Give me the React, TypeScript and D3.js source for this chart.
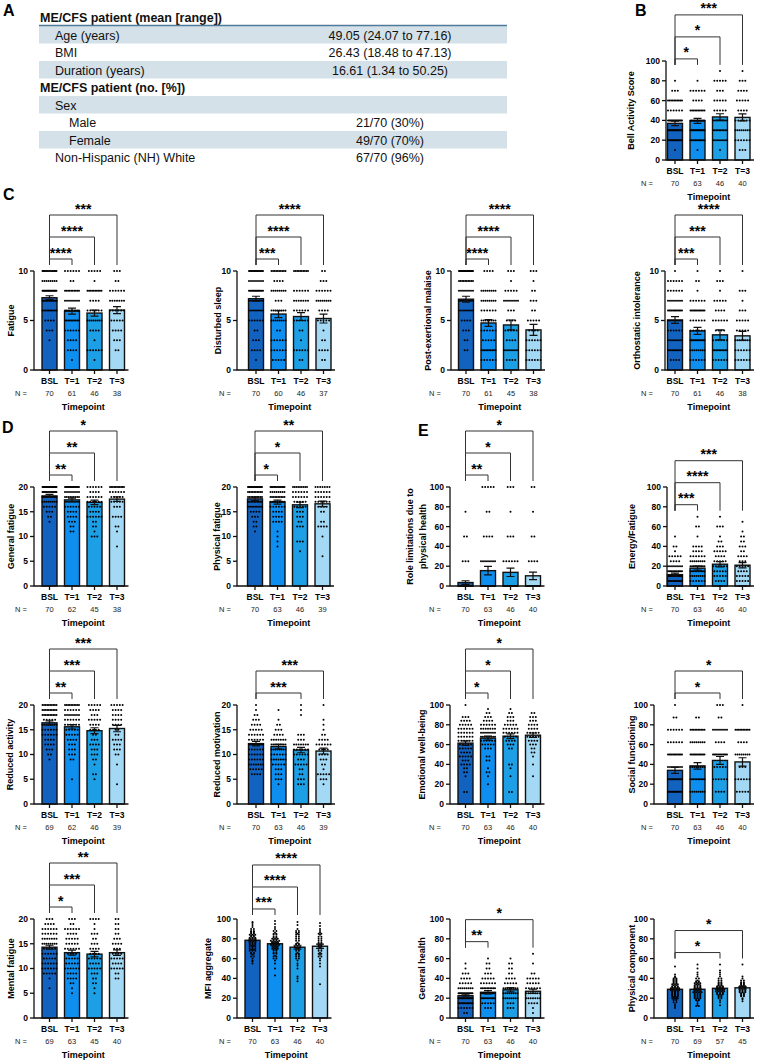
import React from 'react';
import * as d3 from 'd3';

const FONT = '"Liberation Sans", Arial, Helvetica, sans-serif';

const timepoints = ['BSL', 'T=1', 'T=2', 'T=3'];
const barColors = ['#1262c0', '#0e8ff0', '#1d9fe6', '#a3d9f4'];

// ---- Panel A table ----
const tableLabels = [
  'ME/CFS patient (mean [range])',
  'Age (years)',
  'BMI',
  'Duration (years)',
  'ME/CFS patient (no. [%])',
  'Sex',
  'Male',
  'Female',
  'Non-Hispanic (NH) White',
];
const tableValues = [
  '',
  '49.05 (24.07 to 77.16)',
  '26.43 (18.48 to 47.13)',
  '16.61 (1.34 to 50.25)',
  '',
  '',
  '21/70 (30%)',
  '49/70 (70%)',
  '67/70 (96%)',
];
const tableLevels = [0, 1, 1, 1, 0, 1, 2, 2, 1];

type Dots = [number, number][][];
type Sig = [number, string][];

// ---- B: Bell Activity Score ----
const bellMeans = [37, 39.5, 43.5, 43];
const bellSem = [2.3, 2.5, 3.2, 3.5];
const bellN = [70, 63, 46, 40];
const bellDots: Dots = [
  [[10, 1], [20, 14], [30, 20], [40, 15], [50, 6], [60, 10], [70, 3], [80, 1]],
  [[10, 1], [20, 12], [30, 17], [40, 12], [50, 10], [60, 4], [70, 6], [80, 1]],
  [[10, 1], [20, 8], [30, 10], [40, 8], [50, 5], [60, 5], [70, 3], [80, 5], [90, 1]],
  [[10, 3], [20, 6], [30, 8], [40, 6], [50, 4], [60, 5], [70, 4], [80, 3], [90, 1]],
];
const bellSig: Sig = [[1, '*'], [2, '*'], [3, '***']];

// ---- C: symptom scores ----
const fatigueMeans = [7.3, 5.95, 5.75, 6.05];
const fatigueSem = [0.2, 0.3, 0.3, 0.35];
const fatigueN = [70, 61, 46, 38];
const fatigueDots: Dots = [
  [[3, 1], [4, 3], [5, 4], [6, 10], [7, 12], [8, 18], [9, 8], [10, 14]],
  [[1, 1], [2, 4], [3, 4], [4, 6], [5, 10], [6, 10], [7, 8], [8, 10], [9, 2], [10, 6]],
  [[1, 1], [2, 6], [3, 1], [4, 4], [5, 8], [6, 6], [7, 4], [8, 10], [9, 1], [10, 5]],
  [[2, 2], [3, 3], [4, 4], [5, 5], [6, 6], [7, 7], [8, 6], [9, 2], [10, 3]],
];
const fatigueSig: Sig = [[1, '****'], [2, '****'], [3, '***']];

const sleepMeans = [7.2, 5.65, 5.4, 5.2];
const sleepSem = [0.25, 0.35, 0.4, 0.45];
const sleepN = [70, 60, 46, 37];
const sleepDots: Dots = [
  [[1, 1], [2, 4], [3, 3], [4, 2], [5, 6], [6, 8], [7, 8], [8, 14], [9, 8], [10, 16]],
  [[1, 5], [2, 6], [3, 6], [4, 2], [5, 8], [6, 8], [7, 3], [8, 8], [9, 4], [10, 10]],
  [[1, 2], [2, 6], [3, 1], [4, 2], [5, 6], [6, 6], [7, 7], [8, 6], [10, 10]],
  [[1, 2], [2, 4], [3, 2], [4, 1], [5, 5], [6, 4], [7, 8], [8, 6], [9, 3], [10, 2]],
];
const sleepSig: Sig = [[1, '***'], [2, '****'], [3, '****']];

const pemMeans = [7.15, 4.75, 4.55, 4.05];
const pemSem = [0.3, 0.35, 0.5, 0.55];
const pemN = [70, 61, 45, 38];
const pemDots: Dots = [
  [[2, 2], [3, 2], [4, 3], [5, 4], [6, 8], [7, 10], [8, 8], [9, 10], [10, 23]],
  [[1, 6], [2, 10], [3, 5], [4, 6], [5, 8], [6, 6], [7, 8], [8, 8], [10, 4]],
  [[1, 4], [2, 8], [3, 4], [4, 5], [5, 4], [6, 3], [7, 8], [8, 5], [9, 1], [10, 3]],
  [[1, 6], [2, 6], [3, 6], [4, 4], [5, 5], [6, 2], [7, 3], [8, 2], [9, 1], [10, 3]],
];
const pemSig: Sig = [[1, '****'], [2, '****'], [3, '****']];

const orthoMeans = [5.05, 3.95, 3.55, 3.45];
const orthoSem = [0.35, 0.35, 0.5, 0.45];
const orthoN = [70, 61, 46, 38];
const orthoDots: Dots = [
  [[1, 4], [2, 11], [3, 8], [4, 6], [5, 8], [6, 12], [7, 8], [8, 6], [9, 6], [10, 1]],
  [[1, 6], [2, 8], [3, 13], [4, 6], [5, 6], [6, 12], [7, 6], [8, 1], [9, 2], [10, 1]],
  [[1, 6], [2, 10], [3, 6], [4, 4], [5, 6], [6, 4], [7, 5], [8, 1], [9, 3], [10, 1]],
  [[1, 6], [2, 6], [3, 8], [4, 5], [5, 5], [6, 3], [7, 1], [8, 3], [10, 1]],
];
const orthoSig: Sig = [[1, '***'], [2, '***'], [3, '****']];

// ---- D: MFI subscales ----
const genFatigueMeans = [18.2, 17.4, 16.9, 17.55];
const genFatigueSem = [0.3, 0.35, 0.45, 0.45];
const genFatigueN = [70, 62, 45, 38];
const genFatigueDots: Dots = [
  [[13, 1], [14, 2], [15, 3], [16, 5], [17, 8], [18, 12], [19, 14], [20, 25]],
  [[11, 2], [12, 2], [13, 3], [14, 4], [15, 4], [16, 6], [17, 8], [18, 9], [19, 8], [20, 16]],
  [[10, 3], [11, 1], [12, 2], [13, 2], [14, 6], [15, 4], [16, 5], [17, 6], [18, 6], [19, 4], [20, 6]],
  [[8, 1], [11, 1], [12, 2], [14, 4], [16, 3], [17, 5], [18, 5], [19, 6], [20, 11]],
];
const genFatigueSig: Sig = [[1, '**'], [2, '**'], [3, '*']];

const physFatigueMeans = [17.6, 16.95, 16.4, 16.6];
const physFatigueSem = [0.35, 0.4, 0.55, 0.55];
const physFatigueN = [70, 63, 46, 39];
const physFatigueDots: Dots = [
  [[11, 1], [12, 2], [13, 2], [14, 3], [15, 4], [16, 8], [17, 10], [18, 10], [19, 10], [20, 20]],
  [[8, 1], [9, 1], [10, 1], [11, 1], [13, 4], [14, 4], [15, 4], [16, 6], [17, 9], [18, 10], [19, 8], [20, 14]],
  [[7, 1], [9, 3], [12, 3], [13, 2], [14, 3], [15, 3], [16, 5], [17, 5], [18, 6], [19, 6], [20, 9]],
  [[6, 1], [10, 1], [12, 4], [13, 2], [15, 2], [16, 4], [17, 6], [18, 6], [19, 6], [20, 7]],
];
const physFatigueSig: Sig = [[1, '*'], [2, '*'], [3, '**']];

const redActivityMeans = [16.4, 15.6, 14.8, 15.25];
const redActivitySem = [0.4, 0.45, 0.6, 0.65];
const redActivityN = [69, 62, 46, 39];
const redActivityDots: Dots = [
  [[9, 1], [10, 2], [11, 3], [12, 4], [13, 4], [14, 6], [15, 6], [16, 8], [17, 5], [18, 10], [19, 10], [20, 10]],
  [[5, 1], [9, 2], [10, 3], [11, 3], [12, 3], [13, 4], [14, 5], [15, 5], [16, 6], [17, 6], [18, 8], [19, 6], [20, 10]],
  [[5, 1], [6, 2], [8, 1], [9, 2], [10, 3], [11, 3], [12, 4], [13, 3], [14, 2], [15, 4], [16, 4], [17, 5], [18, 3], [19, 4], [20, 5]],
  [[4, 1], [8, 1], [10, 2], [11, 3], [12, 3], [13, 4], [14, 2], [15, 2], [16, 4], [17, 4], [18, 4], [19, 4], [20, 5]],
];
const redActivitySig: Sig = [[1, '**'], [2, '***'], [3, '***']];

const redMotivationMeans = [12.2, 11.6, 10.9, 10.7];
const redMotivationSem = [0.45, 0.45, 0.55, 0.6];
const redMotivationN = [70, 63, 46, 39];
const redMotivationDots: Dots = [
  [[6, 4], [7, 5], [8, 7], [9, 6], [10, 6], [11, 6], [12, 8], [13, 6], [14, 6], [15, 5], [16, 4], [17, 3], [18, 2], [19, 1], [20, 1]],
  [[4, 1], [5, 3], [6, 3], [7, 3], [8, 5], [9, 7], [10, 6], [11, 8], [12, 9], [13, 7], [14, 4], [15, 3], [16, 2], [17, 1], [19, 1]],
  [[4, 3], [5, 3], [6, 2], [7, 2], [8, 5], [9, 3], [10, 6], [11, 6], [12, 7], [13, 3], [14, 3], [18, 1], [19, 1], [20, 1]],
  [[4, 1], [5, 3], [6, 5], [7, 1], [8, 2], [9, 3], [10, 4], [11, 4], [12, 6], [13, 4], [14, 2], [15, 1], [16, 1], [17, 1], [20, 1]],
];
const redMotivationSig: Sig = [[2, '***'], [3, '***']];

const mentalMeans = [14.3, 13.2, 12.9, 13.2];
const mentalSem = [0.4, 0.5, 0.55, 0.55];
const mentalN = [69, 63, 45, 40];
const mentalDots: Dots = [
  [[6, 1], [8, 1], [9, 5], [10, 6], [11, 6], [12, 5], [13, 6], [14, 5], [15, 8], [16, 7], [17, 6], [18, 6], [19, 4], [20, 3]],
  [[5, 1], [6, 1], [7, 2], [8, 4], [9, 4], [10, 6], [11, 5], [12, 5], [13, 4], [14, 6], [15, 5], [16, 5], [17, 4], [18, 6], [19, 2], [20, 3]],
  [[5, 1], [6, 1], [7, 2], [8, 2], [9, 3], [10, 5], [11, 4], [12, 5], [13, 4], [14, 4], [15, 3], [16, 2], [17, 3], [18, 1], [19, 1], [20, 4]],
  [[8, 2], [9, 2], [10, 5], [11, 4], [12, 5], [13, 4], [14, 3], [15, 4], [16, 3], [17, 2], [18, 2], [19, 2], [20, 2]],
];
const mentalSig: Sig = [[1, '*'], [2, '***'], [3, '**']];

const mfiMeans = [78.5, 75, 71.5, 72.5];
const mfiSem = [1.2, 1.4, 2, 2.2];
const mfiN = [70, 63, 46, 40];
const mfiDots: Dots = [
  [[55, 1], [57, 1], [58, 1], [60, 1], [62, 2], [64, 1], [65, 2], [66, 2], [68, 3], [69, 2], [70, 3], [71, 1], [72, 3], [73, 2],
   [74, 3], [75, 3], [76, 3], [77, 3], [78, 3], [79, 3], [80, 3], [81, 3], [82, 2], [83, 2], [84, 3], [85, 2], [86, 2], [87, 2],
   [88, 2], [90, 2], [92, 1], [94, 1], [96, 1], [97, 1]],
  [[43, 1], [50, 1], [55, 1], [58, 1], [60, 2], [62, 2], [63, 1], [65, 2], [66, 2], [68, 2], [69, 2], [70, 3], [71, 2], [72, 3],
   [73, 2], [74, 4], [75, 3], [76, 2], [77, 3], [78, 4], [79, 2], [80, 3], [81, 2], [82, 2], [84, 2], [85, 2], [86, 1], [88, 2],
   [90, 1], [92, 1], [95, 1], [98, 1]],
  [[37, 1], [40, 1], [42, 1], [50, 1], [53, 1], [55, 1], [58, 1], [60, 2], [62, 2], [64, 2], [65, 2], [66, 1], [68, 2], [70, 2],
   [71, 2], [72, 3], [74, 2], [75, 2], [76, 1], [78, 2], [80, 2], [82, 2], [84, 2], [85, 1], [86, 2], [88, 2], [90, 1], [94, 1], [97, 1]],
  [[34, 1], [52, 1], [55, 1], [58, 1], [60, 1], [62, 2], [64, 1], [65, 2], [66, 1], [68, 2], [70, 2], [71, 1], [72, 2], [73, 2],
   [74, 2], [75, 2], [76, 2], [78, 2], [80, 2], [82, 2], [84, 1], [85, 2], [86, 1], [88, 1], [90, 1], [93, 1], [96, 1]],
];
const mfiSig: Sig = [[1, '***'], [2, '****'], [3, '****']];

// ---- E: RAND-36 ----
const roleMeans = [3.5, 15.5, 13.8, 10.3];
const roleSem = [1.8, 4.3, 4.2, 3.8];
const roleN = [70, 63, 46, 40];
const roleDots: Dots = [
  [[0, 64], [25, 3], [50, 2], [75, 1]],
  [[0, 44], [25, 8], [50, 4], [75, 2], [100, 5]],
  [[0, 33], [25, 6], [50, 3], [75, 1], [100, 3]],
  [[0, 31], [25, 4], [50, 2], [75, 1], [100, 2]],
];
const roleSig: Sig = [[1, '**'], [2, '*'], [3, '*']];

const energyMeans = [11.5, 18, 22, 21];
const energySem = [1.5, 2, 2.6, 2.6];
const energyN = [70, 63, 46, 40];
const energyDots: Dots = [
  [[0, 6], [5, 12], [10, 19], [15, 12], [20, 8], [25, 4], [30, 5], [35, 1], [40, 2], [50, 1]],
  [[0, 3], [5, 6], [10, 8], [15, 10], [20, 10], [25, 8], [30, 6], [35, 4], [40, 4], [50, 1], [60, 2], [70, 1]],
  [[0, 2], [5, 4], [10, 5], [15, 5], [20, 6], [25, 5], [30, 4], [35, 5], [40, 3], [45, 2], [50, 1], [60, 3], [70, 1]],
  [[0, 3], [5, 5], [10, 5], [15, 4], [20, 5], [25, 3], [30, 4], [35, 2], [40, 3], [45, 2], [50, 2], [55, 1], [65, 1]],
];
const energySig: Sig = [[1, '***'], [2, '****'], [3, '***']];

const emotionalMeans = [61.5, 66.5, 68.5, 69.5];
const emotionalSem = [2.3, 2, 2.4, 2.2];
const emotionalN = [70, 63, 46, 40];
const emotionalDots: Dots = [
  [[12, 2], [28, 1], [32, 2], [36, 2], [40, 4], [44, 3], [48, 5], [52, 4], [56, 5], [60, 5], [64, 6], [68, 6], [72, 6], [76, 6],
   [80, 5], [84, 4], [88, 3], [100, 1]],
  [[20, 1], [28, 1], [32, 2], [36, 1], [44, 2], [48, 2], [56, 3], [60, 5], [64, 6], [68, 9], [72, 8], [76, 7], [80, 6], [84, 4],
   [88, 3], [92, 2], [96, 1]],
  [[12, 2], [28, 1], [36, 1], [40, 2], [56, 2], [60, 3], [64, 4], [68, 5], [72, 6], [76, 6], [80, 5], [84, 3], [88, 3], [92, 2], [96, 1]],
  [[28, 1], [40, 1], [48, 1], [52, 2], [56, 2], [60, 3], [64, 4], [68, 5], [72, 5], [76, 4], [80, 4], [84, 3], [88, 3], [92, 2]],
];
const emotionalSig: Sig = [[1, '*'], [2, '*'], [3, '*']];

const socialMeans = [34, 38.5, 44, 42.5];
const socialSem = [3, 3.3, 4, 4.2];
const socialN = [70, 63, 46, 40];
const socialDots: Dots = [
  [[0, 8], [12.5, 14], [25, 13], [37.5, 8], [50, 12], [62.5, 6], [75, 6], [87.5, 2], [100, 1]],
  [[0, 5], [12.5, 8], [25, 10], [37.5, 8], [50, 12], [62.5, 8], [75, 10], [87.5, 2]],
  [[0, 2], [12.5, 4], [25, 6], [37.5, 5], [50, 12], [62.5, 4], [75, 8], [87.5, 2], [100, 3]],
  [[0, 3], [12.5, 5], [25, 6], [37.5, 3], [50, 8], [62.5, 4], [75, 10], [100, 1]],
];
const socialSig: Sig = [[2, '*'], [3, '*']];

const genHealthMeans = [22.5, 26, 28.5, 27];
const genHealthSem = [1.5, 1.6, 2.2, 2.2];
const genHealthN = [70, 63, 46, 40];
const genHealthDots: Dots = [
  [[5, 2], [10, 6], [15, 12], [20, 14], [25, 14], [30, 8], [35, 5], [40, 4], [45, 3], [50, 1], [55, 1]],
  [[10, 3], [15, 5], [20, 12], [25, 14], [30, 10], [35, 6], [40, 5], [45, 3], [50, 2], [55, 2], [60, 1]],
  [[10, 3], [15, 3], [20, 8], [25, 8], [30, 8], [35, 5], [40, 4], [45, 2], [50, 2], [55, 2], [60, 1]],
  [[5, 1], [10, 1], [15, 4], [20, 7], [25, 7], [30, 6], [35, 5], [40, 5], [45, 2], [55, 1], [65, 1]],
];
const genHealthSig: Sig = [[1, '**'], [3, '*']];

const physCompMeans = [29, 29, 30, 30.5];
const physCompSem = [1, 1, 1.2, 1.1];
const physCompN = [70, 69, 57, 45];
const physCompDots: Dots = [
  [[10, 1], [12, 1], [14, 1], [16, 2], [18, 2], [19, 2], [20, 3], [21, 2], [22, 3], [23, 3], [24, 3], [25, 3], [26, 3], [27, 3],
   [28, 4], [29, 3], [30, 4], [31, 3], [32, 3], [33, 2], [34, 3], [35, 2], [36, 2], [37, 2], [38, 2], [39, 2], [40, 2], [41, 1],
   [42, 1], [44, 1], [52, 1]],
  [[12, 2], [13, 1], [15, 1], [17, 1], [18, 2], [19, 2], [20, 3], [21, 3], [22, 3], [23, 3], [24, 3], [25, 3], [26, 4], [27, 3],
   [28, 3], [29, 3], [30, 3], [31, 3], [32, 3], [33, 3], [34, 2], [35, 3], [36, 2], [37, 2], [38, 1], [40, 2], [42, 1], [44, 1],
   [46, 1], [50, 1], [54, 1]],
  [[13, 1], [16, 1], [18, 1], [20, 2], [21, 2], [22, 2], [23, 2], [24, 3], [25, 3], [26, 3], [27, 4], [28, 3], [29, 4], [30, 3],
   [31, 3], [32, 3], [33, 2], [34, 2], [35, 2], [36, 2], [38, 2], [40, 2], [42, 1], [44, 1], [46, 1], [48, 1], [54, 1]],
  [[17, 1], [19, 1], [20, 1], [22, 2], [23, 2], [24, 2], [25, 2], [26, 3], [27, 3], [28, 3], [29, 3], [30, 3], [31, 3], [32, 3],
   [33, 2], [34, 2], [35, 2], [36, 2], [38, 2], [40, 1], [42, 1], [54, 1]],
];
const physCompSig: Sig = [[2, '*'], [3, '*']];

interface PanelDef {
  title: string[];
  yMax: number;
  tickStep: number;
  means: number[];
  sem: number[];
  n: number[];
  dots: Dots;
  sig: Sig;
  axisX: number;
  cx0: number;
  top: number;
  titleX: number;
  nX: number;
}

// plot frames: column / row placement
const rowTop = { B: 61, C: 271, D: 487, D2: 705, D3: 919 };
const colN = [15, 219, 429, 641];

const panels: PanelDef[] = [
  { title: ['Bell Activity Score'], yMax: 100, tickStep: 20, means: bellMeans, sem: bellSem, n: bellN, dots: bellDots, sig: bellSig,
    axisX: 666, cx0: 675, top: rowTop.B, titleX: 631, nX: colN[3] },
  { title: ['Fatigue'], yMax: 10, tickStep: 5, means: fatigueMeans, sem: fatigueSem, n: fatigueN, dots: fatigueDots, sig: fatigueSig,
    axisX: 34, cx0: 49.5, top: rowTop.C, titleX: 11, nX: colN[0] },
  { title: ['Disturbed sleep'], yMax: 10, tickStep: 5, means: sleepMeans, sem: sleepSem, n: sleepN, dots: sleepDots, sig: sleepSig,
    axisX: 237, cx0: 256, top: rowTop.C, titleX: 218, nX: colN[1] },
  { title: ['Post-exertional malaise'], yMax: 10, tickStep: 5, means: pemMeans, sem: pemSem, n: pemN, dots: pemDots, sig: pemSig,
    axisX: 451, cx0: 466, top: rowTop.C, titleX: 428, nX: colN[2] },
  { title: ['Orthostatic intolerance'], yMax: 10, tickStep: 5, means: orthoMeans, sem: orthoSem, n: orthoN, dots: orthoDots, sig: orthoSig,
    axisX: 665, cx0: 675, top: rowTop.C, titleX: 637, nX: colN[3] },
  { title: ['General fatigue'], yMax: 20, tickStep: 5, means: genFatigueMeans, sem: genFatigueSem, n: genFatigueN, dots: genFatigueDots, sig: genFatigueSig,
    axisX: 34, cx0: 49.5, top: rowTop.D, titleX: 11, nX: colN[0] },
  { title: ['Physical fatigue'], yMax: 20, tickStep: 5, means: physFatigueMeans, sem: physFatigueSem, n: physFatigueN, dots: physFatigueDots, sig: physFatigueSig,
    axisX: 237, cx0: 255, top: rowTop.D, titleX: 217, nX: colN[1] },
  { title: ['Role limitations due to', 'physical health'], yMax: 100, tickStep: 20, means: roleMeans, sem: roleSem, n: roleN, dots: roleDots, sig: roleSig,
    axisX: 450, cx0: 465.5, top: rowTop.D, titleX: 410, nX: colN[2] },
  { title: ['Energy/Fatigue'], yMax: 100, tickStep: 20, means: energyMeans, sem: energySem, n: energyN, dots: energyDots, sig: energySig,
    axisX: 667, cx0: 675, top: rowTop.D, titleX: 632, nX: colN[3] },
  { title: ['Reduced activity'], yMax: 20, tickStep: 5, means: redActivityMeans, sem: redActivitySem, n: redActivityN, dots: redActivityDots, sig: redActivitySig,
    axisX: 34, cx0: 49.5, top: rowTop.D2, titleX: 10, nX: colN[0] },
  { title: ['Reduced motivation'], yMax: 20, tickStep: 5, means: redMotivationMeans, sem: redMotivationSem, n: redMotivationN, dots: redMotivationDots, sig: redMotivationSig,
    axisX: 237, cx0: 256, top: rowTop.D2, titleX: 217, nX: colN[1] },
  { title: ['Emotional well-being'], yMax: 100, tickStep: 20, means: emotionalMeans, sem: emotionalSem, n: emotionalN, dots: emotionalDots, sig: emotionalSig,
    axisX: 450, cx0: 465.5, top: rowTop.D2, titleX: 422, nX: colN[2] },
  { title: ['Social functioning'], yMax: 100, tickStep: 20, means: socialMeans, sem: socialSem, n: socialN, dots: socialDots, sig: socialSig,
    axisX: 654, cx0: 675, top: rowTop.D2, titleX: 632, nX: colN[3] },
  { title: ['Mental fatigue'], yMax: 20, tickStep: 5, means: mentalMeans, sem: mentalSem, n: mentalN, dots: mentalDots, sig: mentalSig,
    axisX: 34, cx0: 49.5, top: rowTop.D3, titleX: 11, nX: colN[0] },
  { title: ['MFI aggregate'], yMax: 100, tickStep: 20, means: mfiMeans, sem: mfiSem, n: mfiN, dots: mfiDots, sig: mfiSig,
    axisX: 237, cx0: 252.5, top: rowTop.D3, titleX: 208, nX: colN[1] },
  { title: ['General health'], yMax: 100, tickStep: 20, means: genHealthMeans, sem: genHealthSem, n: genHealthN, dots: genHealthDots, sig: genHealthSig,
    axisX: 450, cx0: 465.5, top: rowTop.D3, titleX: 422, nX: colN[2] },
  { title: ['Physical component'], yMax: 100, tickStep: 20, means: physCompMeans, sem: physCompSem, n: physCompN, dots: physCompDots, sig: physCompSig,
    axisX: 654, cx0: 675, top: rowTop.D3, titleX: 632, nX: colN[3] },
];

const panelLetters: [string, number, number][] = [
  ['A', 3, 16], ['B', 635, 16], ['C', 3, 200], ['D', 2, 433], ['E', 418, 436],
];

const PLOT_H = 99;
const BAR_W = 15;
const STEP = 22.5;

const BarPanel: React.FC<{ p: PanelDef }> = ({ p }) => {
  const bottom = p.top + PLOT_H;
  const y = d3.scaleLinear().domain([0, p.yMax]).range([bottom, p.top]);
  const x = d3.scalePoint<string>().domain(timepoints).range([p.cx0, p.cx0 + STEP * 3]);
  const ticks = d3.range(0, p.yMax + 0.001, p.tickStep);
  const dataMax = d3.max(p.dots.flat(), d => d[0]) ?? p.yMax;
  const b1 = y(dataMax) - 12;
  const legEnd = b1 + 6;
  const xEnd = (x('T=3') ?? 0) + BAR_W / 2 + 4;
  const midY = (p.top + bottom) / 2;
  const midX = p.cx0 + STEP * 1.5;

  return (
    <g>
      {/* bars */}
      {timepoints.map((t, i) => (
        <rect key={t} x={(x(t) ?? 0) - BAR_W / 2} y={y(p.means[i])} width={BAR_W}
          height={bottom - y(p.means[i])} fill={barColors[i]} stroke="#111" strokeWidth={1.4} />
      ))}
      {/* individual points */}
      {p.dots.map((grp, i) => grp.map(([v, cnt]) => {
        const dx = cnt > 1 ? Math.min(2.8, 14 / (cnt - 1)) : 0;
        return d3.range(cnt).map(k => (
          <circle key={`${i}-${v}-${k}`} cx={(x(timepoints[i]) ?? 0) + (k - (cnt - 1) / 2) * dx}
            cy={y(v)} r={1.0} fill="#000" />
        ));
      }))}
      {/* error bars */}
      {timepoints.map((t, i) => {
        const cx = x(t) ?? 0;
        const lo = y(p.means[i] - p.sem[i]);
        const hi = y(p.means[i] + p.sem[i]);
        return (
          <path key={t} d={`M${cx},${lo}V${hi}M${cx - 4},${hi}H${cx + 4}M${cx - 4},${lo}H${cx + 4}`}
            stroke="#111" strokeWidth={1.2} fill="none" />
        );
      })}
      {/* axes */}
      <path d={`M${p.axisX},${p.top}V${bottom}H${xEnd}`} stroke="#111" strokeWidth={1.3} fill="none" />
      {ticks.map(t => (
        <g key={t}>
          <line x1={p.axisX - 4} x2={p.axisX} y1={y(t)} y2={y(t)} stroke="#111" strokeWidth={1.3} />
          <text x={p.axisX - 6} y={y(t)} dy="0.35em" textAnchor="end" fontSize={8.5} fontWeight="bold">{t}</text>
        </g>
      ))}
      {timepoints.map((t, i) => (
        <g key={t}>
          <line x1={x(t)} x2={x(t)} y1={bottom} y2={bottom + 4} stroke="#111" strokeWidth={1.3} />
          <text x={x(t)} y={bottom + 14} textAnchor="middle" fontSize={8.5} fontWeight="bold">{t}</text>
          <text x={x(t)} y={bottom + 26} textAnchor="middle" fontSize={7.5} fill="#222">{p.n[i]}</text>
        </g>
      ))}
      <text x={p.nX} y={bottom + 26} fontSize={7.5} fill="#222">N =</text>
      <text x={midX} y={bottom + 40} textAnchor="middle" fontSize={9} fontWeight="bold">Timepoint</text>
      {p.title.map((line, li) => (
        <text key={line} transform={`translate(${p.titleX + li * 13 + 3.3},${midY}) rotate(-90)`}
          textAnchor="middle" fontSize={9} fontWeight="bold">{line}</text>
      ))}
      {/* significance brackets */}
      {p.sig.map(([gi, stars], k) => {
        const x0 = p.cx0;
        const x1 = x(timepoints[gi]) ?? 0;
        const by = b1 - 22 * k;
        return (
          <g key={gi}>
            <path d={`M${x0},${legEnd}V${by}H${x1}V${legEnd}`} stroke="#333" strokeWidth={1} fill="none" />
            <text x={(x0 + x1) / 2} y={by - 1.5} textAnchor="middle" fontSize={14} fontWeight="bold">{stars}</text>
          </g>
        );
      })}
    </g>
  );
};

const TablePanel: React.FC = () => {
  const rowY = d3.scaleLinear().domain([0, tableLabels.length]).range([8.5, 166]);
  const indentX = [40, 55, 69];
  return (
    <g fontSize={12.5}>
      {tableLabels.map((label, i) => (
        <g key={label}>
          {i % 2 === 1 && (
            <rect x={39} y={rowY(i)} width={468} height={rowY(i + 1) - rowY(i)} fill="#d4e1e9" />
          )}
          <text x={indentX[tableLevels[i]]} y={rowY(i) + 13.5} fontWeight={tableLevels[i] === 0 ? 'bold' : 'normal'} fill="#111">
            {label}
          </text>
          {tableValues[i] && (
            <text x={390} y={rowY(i) + 13.5} textAnchor="middle" fill="#111">{tableValues[i]}</text>
          )}
        </g>
      ))}
      <line x1={39} x2={507} y1={rowY(1) - 0.5} y2={rowY(1) - 0.5} stroke="#4f7a99" strokeWidth={1.5} />
    </g>
  );
};

export default function App() {
  return (
    <div style={{ position: 'absolute', left: 0, top: 0 }}>
      <svg width={761} height={1063} viewBox="0 0 761 1063" fontFamily={FONT} style={{ display: 'block', background: '#fff' }}>
        <rect width={761} height={1063} fill="#fff" />
        <TablePanel />
        {panels.map(p => <BarPanel key={p.title[0]} p={p} />)}
        {panelLetters.map(([l, lx, ly]) => (
          <text key={l} x={lx} y={ly} fontSize={16} fontWeight="bold">{l}</text>
        ))}
      </svg>
    </div>
  );
}
